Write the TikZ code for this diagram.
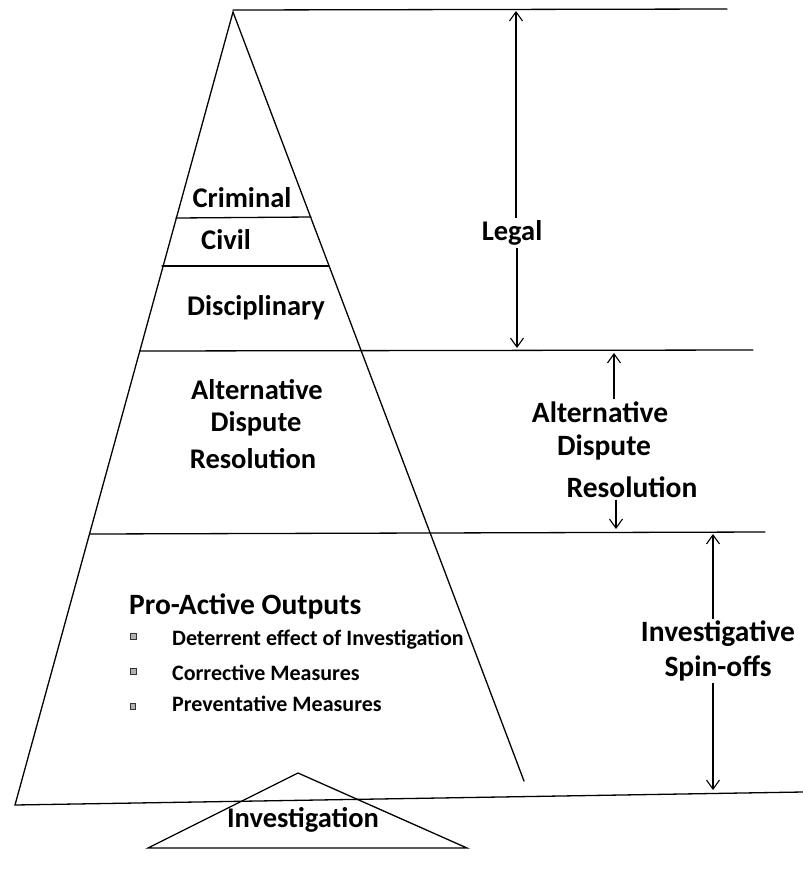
\documentclass[tikz,border=0pt]{standalone}
\usepackage{fontspec}
\setmainfont{Carlito}
\usetikzlibrary{arrows.meta,calc}
\begin{document}
\begin{tikzpicture}[x=1pt,y=-1pt,
  edge/.style={line width=1.3pt, line cap=round},
  arr/.style={line width=1.1pt, -{Straight Barb[length=9pt,width=13pt,line width=1.1pt]}},
  lbl/.style={font=\bfseries\fontsize{28.5}{34}\selectfont, inner sep=2pt, align=center},
  big/.style={font=\bfseries\fontsize{29.5}{35}\selectfont, inner sep=2pt, align=center},
  item/.style={font=\bfseries\fontsize{22}{26}\selectfont, inner sep=0pt, anchor=west},
  bulletbox/.style={draw=black!80, fill=gray!60, line width=0.8pt, minimum size=6pt, inner sep=0pt}]
\useasboundingbox (0,0) rectangle (803,879);
% main pyramid
\coordinate (apex) at (233,12);
\coordinate (bl) at (15,805);
\coordinate (rb) at (524,781);
\coordinate (br) at (803,792);
\coordinate (topR) at (727,9);
\draw[edge] (bl) -- (apex) -- (rb);
\draw[edge] (bl) -- (br);
\draw[edge] (233,10) -- (topR);
% layer lines
\coordinate (c1) at (176,218); \coordinate (c2) at (311,217);
\coordinate (d1) at (162,266); \coordinate (d2) at (329,266);
\coordinate (e1) at (140,351); \coordinate (e2) at (753,350);
\coordinate (f1) at (90,534);  \coordinate (f2) at (765,532);
\draw[edge] (c1) -- (c2);
\draw[edge] (d1) -- (d2);
\draw[edge] (e1) -- (e2);
\draw[edge] (f1) -- (f2);
% small triangle
\coordinate (ta) at (298,773);
\coordinate (tl) at (148,848);
\coordinate (tr) at (467,848);
\draw[edge, line join=miter] (ta) -- (tl) -- (tr) -- cycle;
% pyramid texts
\node[lbl] (criminal) at (242,198) {Criminal};
\node[lbl] (civil) at (226,240) {Civil};
\node[lbl] (disc) at (256,308) {Disciplinary};
\node[lbl] (adrL1) at (257,390) {Alternative};
\node[lbl] (adrL2) at (256,424) {Dispute};
\node[lbl] (adrL3) at (253,459) {Resolution};
\node[big, anchor=west] (pro) at (127,606) {Pro-Active Outputs};
\node[item] (i1) at (172,640) {Deterrent effect of Investigation};
\node[item] (i2) at (172,673) {Corrective Measures};
\node[item] (i3) at (172,704) {Preventative Measures};
\node[bulletbox] (b1) at (133,636) {};
\node[bulletbox] (b2) at (133,671) {};
\node[bulletbox, minimum width=5pt] (b3) at (133,706) {};
\node[lbl] (invest) at (303,820) {Investigation};
% right side labels
\node[lbl] (legal) at (512,233) {Legal};
\coordinate (lgTop) at (516,11);
\coordinate (lgBot) at (517,348);
\draw[arr] (legal.north -| lgTop) -- (lgTop);
\draw[arr] (legal.south -| lgBot) -- (lgBot);
\node[big] (adrR1) at (600,412) {Alternative};
\node[big] (adrR2) at (604,447) {Dispute};
\node[big] (adrR3) at (632,487) {Resolution};
\coordinate (adTop) at (614,353);
\coordinate (adBot) at (616,529);
\draw[arr] (adrR1.north -| adTop) -- (adTop);
\draw[arr] (adrR3.south -| adBot) -- (adBot);
\node[big] (inv1) at (718,634) {Investigative};
\node[big] (inv2) at (718,668) {Spin-offs};
\coordinate (spTop) at (713,534);
\coordinate (spBot) at (713,790);
\draw[arr] (inv1.north -| spTop) -- (spTop);
\draw[arr] (inv2.south -| spBot) -- (spBot);
\end{tikzpicture}
\end{document}
